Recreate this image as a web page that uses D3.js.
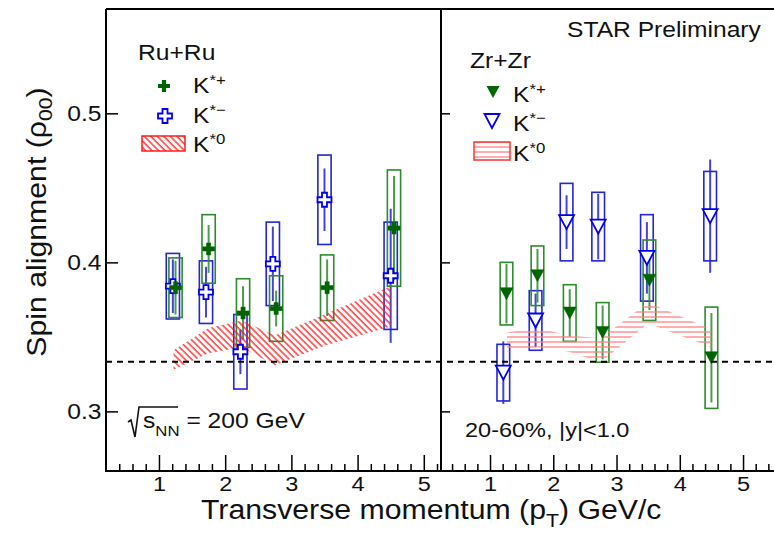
<!DOCTYPE html>
<html>
<head>
<meta charset="utf-8">
<title>Spin alignment K* Ru+Ru / Zr+Zr</title>
<script src="https://d3js.org/d3.v7.min.js"></script>
<style>
  body { margin: 0; background: #fff; }
  text { font-family: "Liberation Sans", Arial, Helvetica, sans-serif; fill: #111; }
</style>
</head>
<body>
<svg id="chart"></svg>
<script>
// ---- data ----
// Ru+Ru
const ruKpPt   = [1.25, 1.75, 2.27, 2.77, 3.54, 4.55];
const ruKpVal  = [0.383, 0.409, 0.366, 0.369, 0.383, 0.423];
const ruKpStat = [0.018, 0.016, 0.018, 0.012, 0.019, 0.035];
const ruKpSys  = [0.020, 0.023, 0.023, 0.022, 0.022, 0.039];

const ruKmPt   = [1.21, 1.71, 2.23, 2.72, 3.50, 4.50];
const ruKmVal  = [0.384, 0.380, 0.340, 0.399, 0.442, 0.391];
const ruKmStat = [0.018, 0.017, 0.015, 0.025, 0.021, 0.045];
const ruKmSys  = [0.022, 0.021, 0.025, 0.028, 0.030, 0.036];

const ruK0Pt = [1.22, 1.75, 2.25, 2.75, 3.5, 4.5];
const ruK0Lo = [0.328, 0.339, 0.343, 0.331, 0.344, 0.357];
const ruK0Hi = [0.341, 0.356, 0.361, 0.351, 0.365, 0.384];

// Zr+Zr
const zrKpPt   = [1.26, 1.75, 2.26, 2.78, 3.52, 4.50];
const zrKpVal  = [0.379, 0.391, 0.366, 0.353, 0.388, 0.336];
const zrKpStat = [0.020, 0.018, 0.016, 0.018, 0.020, 0.030];
const zrKpSys  = [0.021, 0.020, 0.019, 0.020, 0.027, 0.034];

const zrKmPt   = [1.21, 1.72, 2.21, 2.71, 3.48, 4.48];
const zrKmVal  = [0.326, 0.361, 0.427, 0.424, 0.403, 0.431];
const zrKmStat = [0.021, 0.018, 0.018, 0.022, 0.024, 0.038];
const zrKmSys  = [0.019, 0.020, 0.026, 0.023, 0.029, 0.030];

const zrK0Pt = [1.27, 1.75, 2.25, 2.75, 3.5, 4.5];
const zrK0Lo = [0.340, 0.343, 0.340, 0.333, 0.359, 0.343];
const zrK0Hi = [0.353, 0.356, 0.351, 0.349, 0.373, 0.355];

const xTickValues = [1, 2, 3, 4, 5];
const yTickValues = [0.3, 0.4, 0.5];
const rho00 = 1 / 3;

// ---- layout ----
const W = 774, H = 538;
const pTop = 9, pBottom = 471, pLeft = 106, pMid = 441, pRight = 781;
const SX = 1.12;   // text in the picture is a bit wider than Arial

const green = "#2e8b2e", greenDark = "#006400";
const blue = "#2424d8", blueDark = "#0000ee";

const svg = d3.select("#chart").attr("width", W).attr("height", H);

const y  = d3.scaleLinear().domain([0.26, 0.57]).range([pBottom, pTop]);
const xL = d3.scaleLinear().domain([0.2, 5.26]).range([pLeft, pMid]);
const xR = d3.scaleLinear().domain([0.225, 5.6]).range([pMid, pRight]);

// hatch patterns for K*0 bands
const defs = svg.append("defs");
defs.append("pattern").attr("id", "hatchDiag")
    .attr("patternUnits", "userSpaceOnUse").attr("width", 4.6).attr("height", 10)
    .attr("patternTransform", "rotate(-45)")
  .append("line").attr("x1", 1).attr("y1", 0).attr("x2", 1).attr("y2", 10)
    .attr("stroke", "#ff1a1a").attr("stroke-width", 1.3);
defs.append("pattern").attr("id", "hatchHorz")
    .attr("patternUnits", "userSpaceOnUse").attr("width", 10).attr("height", 5)
  .append("line").attr("x1", 0).attr("y1", 2).attr("x2", 10).attr("y2", 2)
    .attr("stroke", "#ff8080").attr("stroke-width", 1.3);

// marker shapes
function crossPath(s, t) {
  const a = s / 2, b = t / 2;
  return `M${-b},${-a}H${b}V${-b}H${a}V${b}H${b}V${a}H${-b}V${b}H${-a}V${-b}H${-b}Z`;
}
function triDownPath(w, h) {
  return `M${-w / 2},${-h / 2}L${w / 2},${-h / 2}L0,${h / 2}Z`;
}

function label(x0, y0, size, anchor, rot) {
  return svg.append("text")
    .attr("transform", `translate(${x0},${y0})${rot ? ` rotate(${rot})` : ""} scale(${SX},1)`)
    .attr("font-size", size)
    .attr("text-anchor", anchor || "start");
}
function kLabel(x0, y0, charge) {
  const t = label(x0, y0, 22);
  t.append("tspan").text("K");
  t.append("tspan").attr("font-size", 15).attr("dy", -8).text("*" + charge);
  return t;
}

// ---- one panel ----
function drawPanel(x, kp, km, k0, bandFill, markers) {
  const g = svg.append("g");

  const band = k0.pt.map((p, i) => ({ pt: p, lo: k0.lo[i], hi: k0.hi[i] }));

  function series(s, col, dark, shape, fill) {
    const rows = s.pt.map((p, i) => ({ pt: p, v: s.val[i], st: s.stat[i], sy: s.sys[i] }));
    // systematic boxes
    g.selectAll(null).data(rows).enter().append("rect")
      .attr("x", d => x(d.pt - 0.1)).attr("width", d => x(d.pt + 0.1) - x(d.pt - 0.1))
      .attr("y", d => y(d.v + d.sy)).attr("height", d => y(d.v - d.sy) - y(d.v + d.sy))
      .attr("fill", "none").attr("stroke", col).attr("stroke-width", 1.6);
    // statistical bars
    g.selectAll(null).data(rows).enter().append("line")
      .attr("x1", d => x(d.pt)).attr("x2", d => x(d.pt))
      .attr("y1", d => y(d.v + d.st)).attr("y2", d => y(d.v - d.st))
      .attr("stroke", col).attr("stroke-width", 2).attr("opacity", 0.85);
    return () => g.selectAll(null).data(rows).enter().append("path")
      .attr("transform", d => `translate(${x(d.pt)},${y(d.v)})`)
      .attr("d", shape)
      .attr("fill", fill).attr("stroke", dark).attr("stroke-width", fill === "white" ? 1.8 : 0.5);
  }
  const mkKm = series(km, blue, blueDark, markers.km, "white");
  const mkKp = series(kp, green, greenDark, markers.kp, greenDark);

  g.append("path").datum(band)
    .attr("d", d3.area().x(d => x(d.pt)).y0(d => y(d.lo)).y1(d => y(d.hi)))
    .attr("fill", bandFill);

  mkKm();
  mkKp();
}

// Ru+Ru panel
drawPanel(xL,
  { pt: ruKpPt, val: ruKpVal, stat: ruKpStat, sys: ruKpSys },
  { pt: ruKmPt, val: ruKmVal, stat: ruKmStat, sys: ruKmSys },
  { pt: ruK0Pt, lo: ruK0Lo, hi: ruK0Hi },
  "url(#hatchDiag)",
  { kp: crossPath(12, 4.2), km: crossPath(14, 5) });

// Zr+Zr panel
drawPanel(xR,
  { pt: zrKpPt, val: zrKpVal, stat: zrKpStat, sys: zrKpSys },
  { pt: zrKmPt, val: zrKmVal, stat: zrKmStat, sys: zrKmSys },
  { pt: zrK0Pt, lo: zrK0Lo, hi: zrK0Hi },
  "url(#hatchHorz)",
  { kp: triDownPath(13, 12), km: triDownPath(15, 14) });

// rho00 = 1/3 reference
svg.append("line")
  .attr("x1", pLeft).attr("x2", W).attr("y1", y(rho00)).attr("y2", y(rho00))
  .attr("stroke", "#000").attr("stroke-width", 2).attr("stroke-dasharray", "6,5");

// ---- axes ----
function xAxes(x, maxMinor) {
  const minor = d3.range(2, Math.round(maxMinor * 5) + 1).map(i => i / 5)
    .filter(v => x(v) > x.range()[0] + 1 && Math.abs(v - Math.round(v)) > 1e-6);
  svg.append("g").attr("transform", `translate(0,${pBottom})`)
    .call(d3.axisBottom(x).tickValues(minor).tickSize(-7).tickFormat(""))
    .call(a => a.select(".domain").remove());
  const maj = svg.append("g").attr("transform", `translate(0,${pBottom})`)
    .call(d3.axisBottom(x).tickValues(xTickValues).tickSize(-16).tickPadding(5).tickFormat(d3.format("d")))
    .call(a => a.select(".domain").remove());
  maj.selectAll("text").attr("font-size", 21).attr("fill", "#111")
    .attr("font-family", "Liberation Sans, Arial, sans-serif")
    .attr("transform", `scale(${SX},1)`);
}
xAxes(xL, 5.2);
xAxes(xR, 5.6);

const yl = svg.append("g").attr("transform", `translate(${pLeft},0)`)
  .call(d3.axisLeft(y).tickValues(yTickValues).tickSize(-12).tickPadding(4).tickFormat(d3.format(".1f")))
  .call(a => a.select(".domain").remove());
yl.selectAll("text").attr("font-size", 22).attr("fill", "#111")
  .attr("font-family", "Liberation Sans, Arial, sans-serif")
  .attr("transform", `scale(${SX},1)`);
svg.append("g").attr("transform", `translate(${pMid},0)`)
  .call(d3.axisLeft(y).tickValues(yTickValues).tickSize(-9).tickFormat(""))
  .call(a => a.select(".domain").remove());
svg.selectAll(".tick line").attr("stroke", "#000").attr("stroke-width", 1.5);

// frames
svg.append("path")
  .attr("d", `M${pLeft},${pTop}H${pRight}M${pLeft},${pTop}V${pBottom}H${pRight}M${pMid},${pTop}V${pBottom}`)
  .attr("fill", "none").attr("stroke", "#000").attr("stroke-width", 2);

// ---- titles ----
const yt = label(46, 222, 27, "middle", -90);
yt.append("tspan").text("Spin alignment (ρ");
yt.append("tspan").attr("font-size", 19).attr("dy", 6).text("00");
yt.append("tspan").attr("dy", -6).text(")");

const xt = label(201, 519, 27, "start");
xt.append("tspan").text("Transverse momentum (p");
xt.append("tspan").attr("font-size", 19).attr("dy", 8).text("T");
xt.append("tspan").attr("dy", -8).text(") GeV/c");

label(567, 37, 22).text("STAR Preliminary");

// energy label with radical sign
const rx = 128, ry = 428;
svg.append("path")
  .attr("d", `M${rx},${ry - 6}L${rx + 3},${ry - 8}L${rx + 7},${ry + 9}L${rx + 11},${ry - 21}H${rx + 50}`)
  .attr("fill", "none").attr("stroke", "#111").attr("stroke-width", 1.6);
const en = label(rx + 15, ry, 22);
en.append("tspan").text("s");
en.append("tspan").attr("font-size", 15).attr("dy", 8).text("NN");
en.append("tspan").attr("dy", -8).text(" = 200 GeV");

label(465, 437, 21).text("20-60%, |y|<1.0");

// ---- legends ----
label(138, 60, 22).text("Ru+Ru");
svg.append("path").attr("transform", "translate(164,86)").attr("d", crossPath(12, 4.2)).attr("fill", greenDark);
kLabel(193, 93, "+");
svg.append("path").attr("transform", "translate(165,116)").attr("d", crossPath(14, 5))
  .attr("fill", "white").attr("stroke", blueDark).attr("stroke-width", 1.8);
kLabel(193, 123, "−");
svg.append("rect").attr("x", 142).attr("y", 136).attr("width", 43).attr("height", 15)
  .attr("fill", "url(#hatchDiag)").attr("stroke", "#ff1a1a").attr("stroke-width", 1.5);
kLabel(193, 152, "0");

label(470, 68, 22).text("Zr+Zr");
svg.append("path").attr("transform", "translate(493,92)").attr("d", triDownPath(13, 12)).attr("fill", greenDark);
kLabel(513, 102, "+");
svg.append("path").attr("transform", "translate(492,121)").attr("d", triDownPath(15, 14))
  .attr("fill", "white").attr("stroke", blueDark).attr("stroke-width", 1.8);
kLabel(513, 131, "−");
svg.append("rect").attr("x", 474).attr("y", 142).attr("width", 36).attr("height", 18)
  .attr("fill", "url(#hatchHorz)").attr("stroke", "#ff3030").attr("stroke-width", 1.5);
kLabel(513, 161, "0");
</script>
</body>
</html>
